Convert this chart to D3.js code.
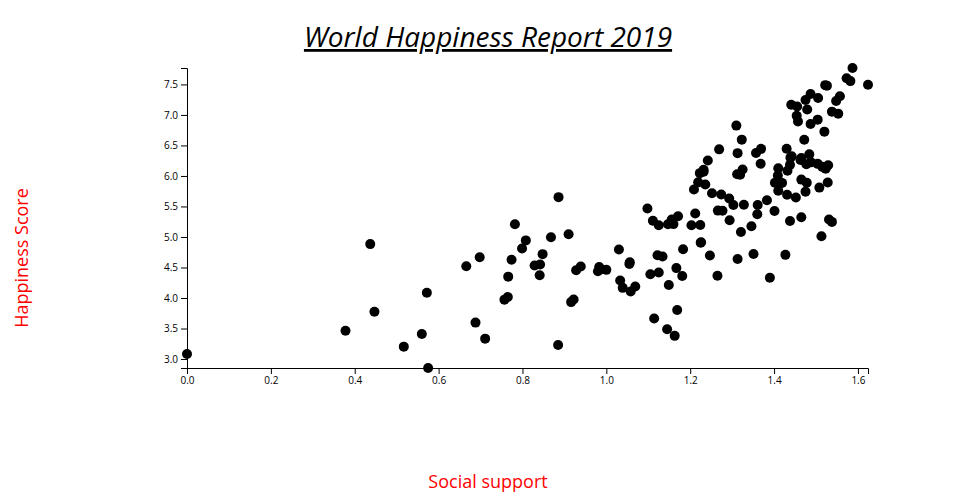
<!DOCTYPE html>
<html>
<head>
<meta charset="utf-8">
<script src="https://cdn.jsdelivr.net/npm/d3@7"></script>
<style>
  body { margin: 0; background: #fff; }
  text { font-family: "Open Sans", sans-serif; }
</style>
</head>
<body>
<svg id="chart" width="960" height="500"></svg>
<script>
const countries = ["Finland","Denmark","Norway","Iceland","Netherlands","Switzerland","Sweden","New Zealand","Canada","Austria","Australia","Costa Rica","Israel","Luxembourg","United Kingdom","Ireland","Germany","Belgium","United States","Czech Republic","United Arab Emirates","Malta","Mexico","France","Taiwan","Chile","Guatemala","Saudi Arabia","Qatar","Spain","Panama","Brazil","Uruguay","Singapore","El Salvador","Italy","Bahrain","Slovakia","Trinidad & Tobago","Poland","Uzbekistan","Lithuania","Colombia","Slovenia","Nicaragua","Kosovo","Argentina","Romania","Cyprus","Ecuador","Kuwait","Thailand","Latvia","South Korea","Estonia","Jamaica","Mauritius","Japan","Honduras","Kazakhstan","Bolivia","Hungary","Paraguay","Northern Cyprus","Peru","Portugal","Pakistan","Russia","Philippines","Serbia","Moldova","Libya","Montenegro","Tajikistan","Croatia","Hong Kong","Dominican Republic","Bosnia and Herzegovina","Turkey","Malaysia","Belarus","Greece","Mongolia","North Macedonia","Nigeria","Kyrgyzstan","Turkmenistan","Algeria","Morocco","Azerbaijan","Lebanon","Indonesia","China","Vietnam","Bhutan","Cameroon","Bulgaria","Ghana","Ivory Coast","Nepal","Jordan","Benin","Congo (Brazzaville)","Gabon","Laos","South Africa","Albania","Venezuela","Cambodia","Palestinian Territories","Senegal","Somalia","Namibia","Niger","Burkina Faso","Armenia","Iran","Guinea","Georgia","Gambia","Kenya","Mauritania","Mozambique","Tunisia","Bangladesh","Iraq","Congo (Kinshasa)","Mali","Sierra Leone","Sri Lanka","Myanmar","Chad","Ukraine","Ethiopia","Swaziland","Uganda","Egypt","Zambia","Togo","India","Liberia","Comoros","Madagascar","Lesotho","Burundi","Zimbabwe","Haiti","Botswana","Syria","Malawi","Yemen","Rwanda","Tanzania","Afghanistan","Central African Republic","South Sudan"];

const happinessScore = [7.769,7.600,7.554,7.494,7.488,7.480,7.343,7.307,7.278,7.246,7.228,7.167,7.139,7.090,7.054,7.021,6.985,6.923,6.892,6.852,6.825,6.726,6.595,6.592,6.446,6.444,6.436,6.375,6.374,6.354,6.321,6.300,6.293,6.262,6.253,6.223,6.199,6.198,6.192,6.182,6.174,6.149,6.125,6.118,6.105,6.100,6.086,6.070,6.046,6.028,6.021,6.008,5.940,5.895,5.893,5.890,5.888,5.886,5.860,5.809,5.779,5.758,5.743,5.718,5.697,5.693,5.653,5.648,5.631,5.603,5.529,5.525,5.523,5.467,5.432,5.430,5.425,5.386,5.373,5.339,5.323,5.287,5.285,5.274,5.265,5.261,5.247,5.211,5.208,5.208,5.197,5.192,5.191,5.175,5.082,5.044,5.011,4.996,4.944,4.913,4.906,4.883,4.812,4.799,4.796,4.722,4.719,4.707,4.700,4.696,4.681,4.668,4.639,4.628,4.587,4.559,4.548,4.534,4.519,4.516,4.509,4.490,4.466,4.461,4.456,4.437,4.418,4.390,4.374,4.366,4.360,4.350,4.332,4.286,4.212,4.189,4.166,4.107,4.085,4.015,3.975,3.973,3.933,3.802,3.775,3.663,3.597,3.488,3.462,3.410,3.380,3.334,3.231,3.203,3.083,2.853];

const socialSupport = [1.587,1.573,1.582,1.624,1.522,1.526,1.487,1.557,1.505,1.475,1.548,1.441,1.455,1.479,1.538,1.553,1.454,1.504,1.457,1.487,1.310,1.520,1.323,1.472,1.430,1.369,1.269,1.357,1.313,1.484,1.442,1.439,1.465,1.463,1.242,1.488,1.368,1.504,1.477,1.438,1.529,1.515,1.410,1.523,1.325,1.232,1.432,1.232,1.223,1.312,1.319,1.409,1.465,1.219,1.528,1.478,1.402,1.419,1.236,1.508,1.209,1.410,1.475,1.252,1.274,1.431,0.886,1.452,1.293,1.383,1.328,1.303,1.361,1.098,1.266,1.277,1.401,1.212,1.360,1.171,1.465,1.156,1.531,1.294,1.111,1.438,1.538,1.160,0.782,1.147,1.224,1.203,1.125,1.346,1.321,0.910,1.513,0.868,0.808,1.226,1.225,0.437,0.799,1.183,1.030,1.351,0.848,1.427,1.122,1.247,1.134,0.698,1.313,0.774,1.056,1.055,0.842,0.829,0.666,0.939,0.983,1.167,0.986,1.000,0.928,0.980,1.125,1.105,0.841,1.265,1.181,0.766,1.390,1.033,1.149,1.069,1.039,1.058,0.572,0.765,0.922,0.757,0.916,1.169,0.447,1.114,0.688,1.145,0.378,0.560,1.163,0.711,0.885,0.517,0.000,0.575];

const titleText = "World Happiness Report 2019";
const xLabel = "Social support";
const yLabel = "Happiness Score";

const data = countries.map((c, i) => ({ country: c, score: happinessScore[i], support: socialSupport[i] }));

const svg = d3.select("#chart");
const width = 960, height = 500;
const margin = { top: 68, right: 92, bottom: 132, left: 187 };
const innerW = width - margin.left - margin.right;
const innerH = height - margin.top - margin.bottom;

const x = d3.scaleLinear().domain(d3.extent(socialSupport)).range([0, innerW]);
const y = d3.scaleLinear().domain(d3.extent(happinessScore)).range([innerH, 0]);

const g = svg.append("g").attr("transform", `translate(${margin.left},${margin.top})`);

g.append("g")
  .attr("transform", `translate(0,${innerH})`)
  .call(d3.axisBottom(x).tickFormat(d3.format(".1f")))
  .selectAll("text").style("font-family", "Open Sans, sans-serif");

g.append("g")
  .call(d3.axisLeft(y).tickFormat(d3.format(".1f")))
  .selectAll("text").style("font-family", "Open Sans, sans-serif");

g.selectAll("circle.dot")
  .data(data)
  .enter().append("circle")
  .attr("class", "dot")
  .attr("cx", d => x(d.support))
  .attr("cy", d => y(d.score))
  .attr("r", 5)
  .attr("fill", "#000");

svg.append("text")
  .attr("x", 488)
  .attr("y", 47)
  .attr("text-anchor", "middle")
  .style("font-size", "28px")
  .style("font-style", "italic")
  .style("text-decoration", "underline")
  .text(titleText);

svg.append("text")
  .attr("x", 488)
  .attr("y", 488)
  .attr("text-anchor", "middle")
  .style("font-size", "18px")
  .attr("fill", "red")
  .text(xLabel);

svg.append("text")
  .attr("transform", `translate(28,${258}) rotate(-90)`)
  .attr("text-anchor", "middle")
  .style("font-size", "18px")
  .attr("fill", "red")
  .text(yLabel);
</script>
</body>
</html>
